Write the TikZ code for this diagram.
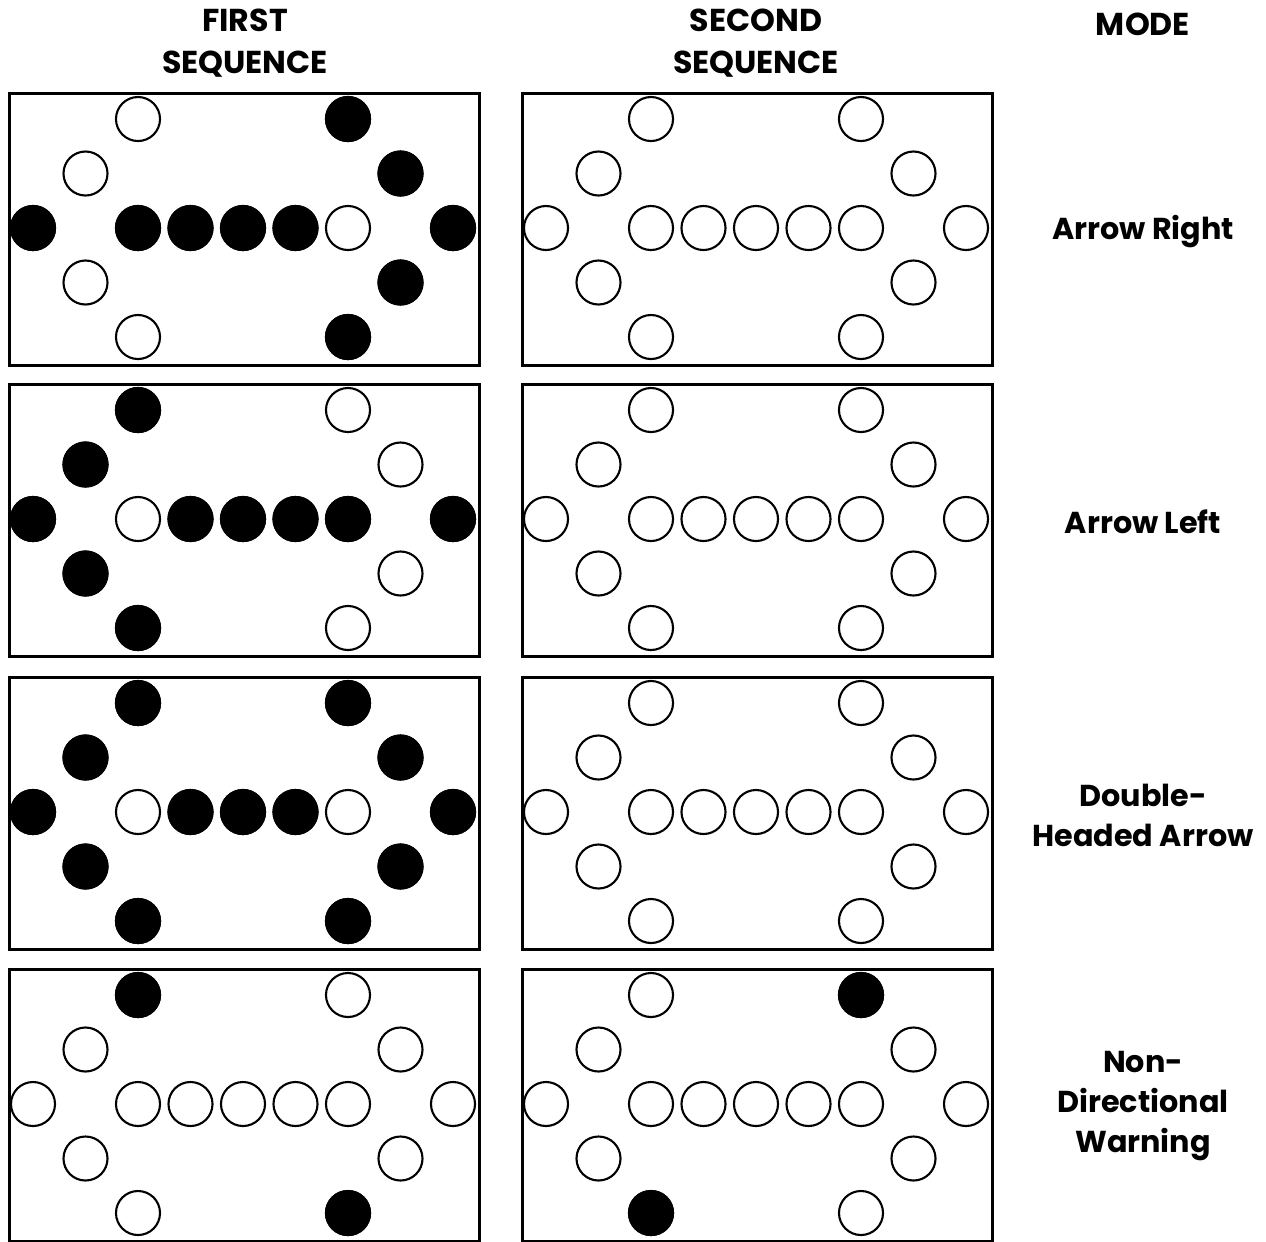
\documentclass[tikz,border=0pt]{standalone}
\usepackage{fontspec}
\setmainfont{Poppins}
\usetikzlibrary{calc}
\tikzset{
  panel/.style={draw, line width=0.85pt, minimum width=4.70cm, minimum height=2.72cm,
    inner sep=0pt, anchor=north west},
  lampoff/.style={circle, draw, line width=0.6pt, minimum size=0.44cm, inner sep=0pt},
  lampon/.style={lampoff, fill=black},
  head/.style={font=\fontsize{9}{11.9}\selectfont\bfseries, align=center},
  mode/.style={font=\fontsize{8.6}{11.4}\selectfont\bfseries, align=center}
}
% one sign face: name, left, top, lit lamps
\newcommand{\signpanel}[4]{%
  \node[panel] (#1) at (#2,#3) {};
  \foreach \i/\j in {2/0,6/0,1/1,7/1,0/2,2/2,3/2,4/2,5/2,6/2,8/2,1/3,7/3,2/4,6/4}
    \node[lampoff] (#1-\i-\j) at ($(#1.north west)+(25+52.5*\i,27+54.5*\j)$) {};
  \foreach \i/\j in {#4}
    \node[lampon] (#1-on-\i-\j) at (#1-\i-\j) {};
}

\begin{document}
\begin{tikzpicture}[x=0.01cm,y=-0.01cm]
  \useasboundingbox (0,0) rectangle (1266,1241);
  \node[head] (first) at (245,43) {FIRST\\SEQUENCE};
  \node[head] (second) at (756,43) {SECOND\\SEQUENCE};
  \node[head] (modehead) at (1143,24) {MODE};

  % arrow right
  \signpanel{rightA}{8}{92}{6/0,7/1,0/2,2/2,3/2,4/2,5/2,8/2,7/3,6/4}
  \signpanel{rightB}{521}{92}{}
  \node[mode] (right) at (1143,232) {Arrow Right};

  % arrow left
  \signpanel{leftA}{8}{383}{2/0,1/1,0/2,3/2,4/2,5/2,6/2,8/2,1/3,2/4}
  \signpanel{leftB}{521}{383}{}
  \node[mode] (left) at (1143,522) {Arrow Left};

  % double headed
  \signpanel{doubleA}{8}{676}{2/0,6/0,1/1,7/1,0/2,3/2,4/2,5/2,8/2,1/3,7/3,2/4,6/4}
  \signpanel{doubleB}{521}{676}{}
  \node[mode] (double) at (1143,815) {Double-\\Headed Arrow};

  % warning
  \signpanel{warnA}{8}{968}{2/0,6/4}
  \signpanel{warnB}{521}{968}{6/0,2/4}
  \node[mode] (warn) at (1143,1106) {Non-\\Directional\\Warning};
\end{tikzpicture}
\end{document}
